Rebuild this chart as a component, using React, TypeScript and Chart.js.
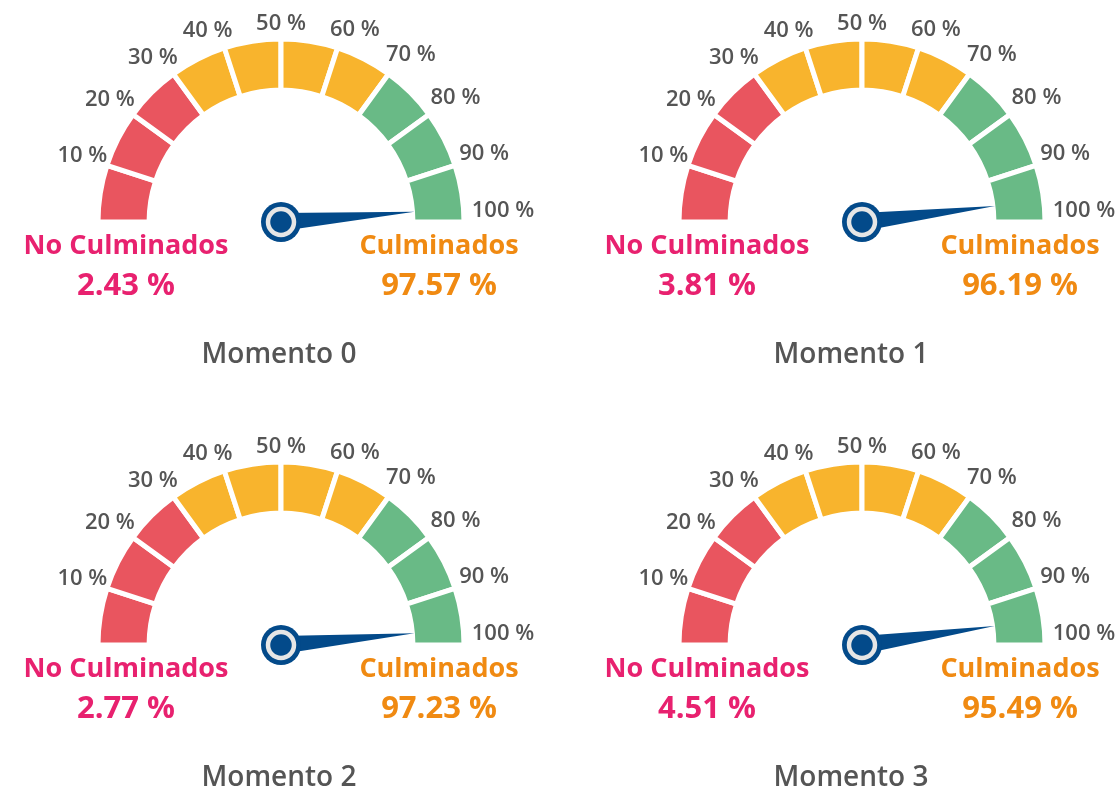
import React, { useEffect, useRef } from 'react';
import { Chart, registerables } from 'chart.js';

Chart.register(...registerables);

// ---- data ----
const momentTitles = ['Momento 0', 'Momento 1', 'Momento 2', 'Momento 3'];
const seriesNames = ['No Culminados', 'Culminados'];
const noCulminados = [2.43, 3.81, 2.77, 4.51];
const culminados = [97.57, 96.19, 97.23, 95.49];
const bandLabels = ['10 %', '20 %', '30 %', '40 %', '50 %', '60 %', '70 %', '80 %', '90 %', '100 %'];
const bandSizes = [10, 10, 10, 10, 10, 10, 10, 10, 10, 10];
const bandColors = [
  '#E9555F', '#E9555F', '#E9555F',
  '#F8B42D', '#F8B42D', '#F8B42D', '#F8B42D',
  '#69BA86', '#69BA86', '#69BA86',
];

// ---- layout / style ----
const W = 1117;
const H = 791;
const RADIUS = 183;
const CUTOUT = '72.1%';
const PANELS = [
  { cx: 281, cy: 222, titleX: 279 },
  { cx: 862, cy: 222, titleX: 851 },
  { cx: 281, cy: 645, titleX: 279 },
  { cx: 862, cy: 645, titleX: 851 },
];
const FONT = '"Open Sans", Roboto, sans-serif';
const GRAY = '#555555';
const PINK = '#E8216F';
const ORANGE = '#F08A12';
const NEEDLE = '#034A8A';
const RING = '#E6E6E6';

function padFor(cx: number, cy: number) {
  let left = 0, right = 0, top = 0, bottom = 0;
  if (2 * cx <= W) right = W - 2 * cx; else left = 2 * cx - W;
  const d = 2 * cy - RADIUS - H;
  if (d >= 0) top = d; else bottom = -d;
  return { left, right, top, bottom };
}

function Gauge({ index }: { index: number }) {
  const ref = useRef<HTMLCanvasElement | null>(null);
  useEffect(() => {
    if (!ref.current) return;
    const panel = PANELS[index];
    const overlay = {
      id: 'gaugeOverlay' + index,
      afterDraw(chart: any) {
        const ctx = chart.ctx as CanvasRenderingContext2D;
        const meta = chart.getDatasetMeta(0);
        const arcs = meta.data as any[];
        if (!arcs.length) return;
        const cx = arcs[0].x;
        const cy = arcs[0].y;
        const inner = arcs[0].innerRadius;
        const start = arcs[0].startAngle;
        const end = arcs[arcs.length - 1].endAngle;
        const total = bandSizes.reduce((a, b) => a + b, 0);

        ctx.save();
        // band labels at each band's end
        ctx.font = '600 22px ' + FONT;
        ctx.fillStyle = GRAY;
        ctx.textAlign = 'center';
        ctx.textBaseline = 'alphabetic';
        arcs.forEach((arc, i) => {
          const th = arc.endAngle;
          const c = Math.cos(th);
          const s = Math.sin(th);
          const su = -s;
          const r = 200 + 8 * Math.abs(c) + 5 * Math.max(0, c);
          let x = cx + r * c + Math.sign(Math.round(c * 1000)) * 12 * su * su;
          let y = cy + r * s - 5 * Math.pow(c, 4);
          if (su < 0.05) {
            y = cy - 13;
            x += 9;
          }
          ctx.fillText(bandLabels[i], x, y + 8);
        });

        // needle
        const v = culminados[index];
        const a = start + (v / total) * (end - start);
        const tipR = inner + 2;
        const tx = cx + tipR * Math.cos(a);
        const ty = cy + tipR * Math.sin(a);
        const hw = 9;
        const px = -Math.sin(a) * hw;
        const py = Math.cos(a) * hw;
        ctx.beginPath();
        ctx.moveTo(cx + px, cy + py);
        ctx.lineTo(tx, ty);
        ctx.lineTo(cx - px, cy - py);
        ctx.closePath();
        ctx.fillStyle = NEEDLE;
        ctx.fill();
        // hub
        ctx.beginPath();
        ctx.arc(cx, cy, 20, 0, Math.PI * 2);
        ctx.fillStyle = NEEDLE;
        ctx.fill();
        ctx.beginPath();
        ctx.arc(cx, cy, 13, 0, Math.PI * 2);
        ctx.lineWidth = 4.5;
        ctx.strokeStyle = RING;
        ctx.stroke();

        // series texts
        const lx = cx - 155;
        const rx = cx + 158;
        ctx.textAlign = 'center';
        ctx.textBaseline = 'alphabetic';
        ctx.fillStyle = PINK;
        ctx.font = 'bold 27px ' + FONT;
        ctx.fillText(seriesNames[0], lx, cy + 32);
        ctx.font = 'bold 31px ' + FONT;
        ctx.fillText(noCulminados[index].toFixed(2) + ' %', lx, cy + 73);
        ctx.fillStyle = ORANGE;
        ctx.font = 'bold 27px ' + FONT;
        ctx.fillText(seriesNames[1], rx, cy + 32);
        ctx.font = 'bold 31px ' + FONT;
        ctx.fillText(culminados[index].toFixed(2) + ' %', rx, cy + 73);

        // title
        ctx.fillStyle = GRAY;
        ctx.font = '600 28px ' + FONT;
        ctx.fillText(momentTitles[index], panel.titleX, cy + 141);
        ctx.restore();
      },
    };

    const chart = new Chart(ref.current, {
      type: 'doughnut',
      data: {
        labels: bandLabels,
        datasets: [
          {
            data: bandSizes,
            backgroundColor: bandColors,
            borderColor: '#ffffff',
            borderWidth: 5,
            borderAlign: 'center',
            hoverOffset: 0,
          } as any,
        ],
      },
      options: {
        responsive: false,
        animation: false,
        events: [],
        rotation: -90,
        circumference: 180,
        radius: RADIUS,
        cutout: CUTOUT,
        layout: { padding: padFor(panel.cx, panel.cy) },
        plugins: {
          legend: { display: false },
          tooltip: { enabled: false },
        },
      } as any,
      plugins: [overlay],
    });
    return () => chart.destroy();
  }, [index]);

  return (
    <canvas
      ref={ref}
      width={W}
      height={H}
      style={{ position: 'absolute', left: 0, top: 0, width: W, height: H }}
    />
  );
}

export default function App() {
  useEffect(() => {
    document.body.style.margin = '0';
  }, []);
  return (
    <div style={{ position: 'absolute', left: 0, top: 0, width: W, height: H, background: '#ffffff', overflow: 'hidden' }}>
      {momentTitles.map((_, i) => (
        <Gauge key={i} index={i} />
      ))}
    </div>
  );
}
